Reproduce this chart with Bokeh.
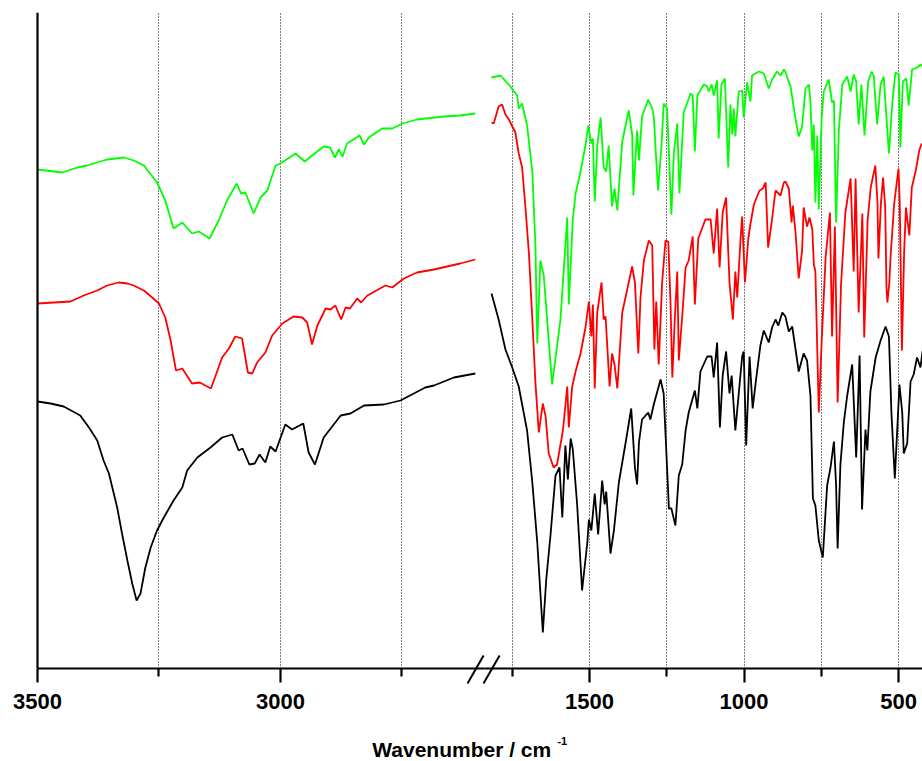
from bokeh.plotting import figure
from bokeh.models import Range1d, FixedTicker, Label, LinearAxis, Grid
from bokeh.embed import file_html
from bokeh.resources import INLINE

# ---------------- data (wavenumber / cm-1, transmittance a.u.) ----------------
# high-wavenumber panel
green_hi_wn = [3500, 3449, 3418, 3398, 3357, 3322, 3302, 3281, 3254, 3237, 3220, 3202, 3182, 3168, 3146,
               3127, 3110, 3090, 3081, 3072, 3055, 3041, 3027, 3010, 3000, 2969, 2950, 2935, 2911, 2898,
               2888, 2880, 2872, 2863, 2837, 2828, 2818, 2791, 2770, 2749, 2719, 2664, 2630, 2599]
green_hi_t = [499, 496, 501, 503, 509, 511, 508, 503, 486, 468, 440, 446, 435, 437, 430,
              448, 468, 485, 475, 476, 455, 471, 478, 503, 505, 515, 507, 513, 522, 521,
              511, 519, 512, 525, 533, 524, 531, 540, 540, 545, 549, 552, 553, 555]

red_hi_wn = [3500, 3466, 3432, 3405, 3377, 3357, 3333, 3315, 3302, 3281, 3264, 3250, 3237, 3226, 3215,
             3202, 3182, 3166, 3143, 3120, 3106, 3093, 3079, 3067, 3058, 3048, 3031, 3017, 2996, 2973,
             2955, 2945, 2935, 2924, 2907, 2897, 2887, 2875, 2866, 2857, 2842, 2834, 2821, 2784, 2770,
             2746, 2719, 2684, 2630, 2599]
red_hi_t = [365, 366, 367, 373, 378, 383, 386, 385, 383, 378, 371, 365, 351, 328, 298,
            300, 285, 286, 280, 311, 320, 332, 330, 296, 295, 306, 316, 333, 345, 352,
            351, 346, 324, 343, 360, 359, 363, 349, 361, 360, 370, 366, 373, 383, 381,
            390, 396, 399, 405, 409]

black_hi_wn = [3500, 3473, 3446, 3412, 3394, 3377, 3364, 3353, 3343, 3336, 3326, 3315, 3305, 3296, 3288,
               3278, 3267, 3254, 3240, 3220, 3202, 3192, 3171, 3144, 3120, 3099, 3086, 3078, 3064, 3053,
               3043, 3031, 3021, 3010, 2990, 2976, 2953, 2942, 2929, 2911, 2876, 2856, 2828, 2787, 2753,
               2702, 2684, 2643, 2599]
black_hi_t = [267, 265, 262, 253, 241, 228, 208, 195, 175, 161, 135, 108, 85, 68, 75,
              101, 121, 138, 151, 168, 181, 198, 211, 221, 231, 234, 218, 220, 204, 205,
              214, 206, 222, 217, 244, 239, 245, 216, 204, 231, 253, 255, 263, 264, 268,
              281, 283, 291, 295]

# fingerprint panel
green_lo_wn = [1817, 1788, 1756, 1734, 1729, 1718, 1702, 1685, 1675, 1669, 1659, 1648, 1621, 1594, 1578,
               1572, 1567, 1554, 1545, 1529, 1513, 1504, 1494, 1489, 1483, 1475, 1464, 1454, 1446, 1438,
               1427, 1419, 1410, 1394, 1373, 1362, 1358, 1346, 1340, 1330, 1310, 1297, 1292, 1286, 1278,
               1267, 1260, 1249, 1243, 1235, 1227, 1216, 1209, 1195, 1173, 1166, 1159, 1151, 1130, 1119,
               1114, 1105, 1098, 1087, 1082, 1073, 1062, 1051, 1044, 1038, 1033, 1028, 1017, 1006, 1001,
               990, 979, 974, 952, 936, 920, 909, 893, 882, 871, 866, 855, 850, 833, 823,
               812, 801, 790, 785, 779, 774, 769, 763, 758, 749, 742, 726, 715, 709, 702,
               693, 682, 666, 655, 645, 637, 629, 620, 610, 598, 587, 580, 569, 558, 548,
               531, 520, 510, 499, 494, 486, 475, 467, 456, 440, 429, 422]
green_lo_t = [591, 593, 582, 573, 560, 565, 543, 497, 423, 325, 408, 393, 284, 349, 423,
              451, 364, 449, 475, 497, 523, 543, 525, 530, 467, 523, 551, 501, 497, 523,
              462, 480, 458, 527, 558, 534, 473, 538, 508, 552, 569, 560, 552, 519, 478,
              523, 565, 560, 515, 454, 515, 545, 475, 556, 575, 573, 517, 573, 584, 582,
              577, 584, 573, 588, 530, 584, 590, 501, 564, 534, 560, 532, 577, 578, 551,
              586, 567, 593, 597, 595, 580, 589, 597, 593, 599, 597, 586, 583, 549, 532,
              542, 580, 584, 566, 518, 544, 466, 533, 459, 549, 577, 589, 566, 568, 446,
              539, 584, 592, 577, 594, 587, 544, 584, 533, 587, 597, 592, 544, 584, 592,
              515, 566, 596, 594, 521, 587, 590, 563, 599, 601, 604, 602]

red_lo_wn = [1817, 1810, 1794, 1783, 1772, 1761, 1740, 1729, 1718, 1707, 1696, 1685, 1675, 1664, 1651,
             1642, 1632, 1616, 1605, 1586, 1572, 1567, 1556, 1545, 1529, 1513, 1502, 1494, 1489, 1483,
             1475, 1461, 1454, 1448, 1435, 1427, 1419, 1410, 1394, 1362, 1353, 1342, 1335, 1324, 1308,
             1297, 1290, 1284, 1276, 1265, 1254, 1245, 1238, 1232, 1224, 1216, 1211, 1200, 1189, 1179,
             1166, 1159, 1148, 1125, 1108, 1098, 1087, 1079, 1069, 1058, 1047, 1036, 1028, 1022, 1011,
             1006, 997, 986, 979, 968, 950, 939, 930, 922, 911, 898, 882, 871, 866, 855,
             846, 842, 833, 823, 812, 807, 796, 788, 779, 774, 769, 758, 749, 736, 722,
             715, 706, 697, 686, 672, 655, 645, 639, 629, 617, 611, 600, 590, 575, 568,
             565, 557, 550, 543, 539, 536, 530, 525, 514, 500, 496, 489, 482, 476, 471,
             465, 457, 444, 433, 425]
red_lo_t = [546, 545, 562, 564, 554, 549, 536, 515, 501, 460, 415, 349, 286, 236, 265,
            252, 215, 201, 204, 238, 282, 241, 282, 297, 315, 341, 367, 332, 364, 280,
            356, 386, 349, 352, 282, 315, 304, 280, 356, 402, 386, 315, 371, 408, 428,
            423, 319, 367, 304, 386, 428, 427, 367, 291, 349, 397, 308, 352, 401, 408,
            432, 364, 430, 449, 449, 415, 460, 401, 456, 471, 386, 349, 397, 371, 430,
            452, 386, 430, 445, 464, 478, 480, 486, 421, 445, 478, 473, 486, 487, 480,
            446, 463, 435, 390, 418, 461, 442, 451, 439, 404, 397, 256, 325, 411, 456,
            332, 442, 266, 384, 456, 490, 397, 490, 356, 455, 331, 448, 481, 503, 465,
            410, 465, 491, 461, 381, 366, 385, 415, 465, 500, 465, 318, 415, 461, 448,
            433, 481, 498, 518, 525]

black_lo_wn = [1817, 1794, 1772, 1750, 1729, 1718, 1702, 1685, 1669, 1651, 1640, 1626, 1610, 1597, 1588,
               1578, 1570, 1561, 1554, 1540, 1524, 1507, 1502, 1494, 1483, 1472, 1459, 1451, 1446, 1432,
               1421, 1405, 1383, 1365, 1353, 1346, 1340, 1330, 1310, 1303, 1292, 1270, 1260, 1249, 1243,
               1235, 1222, 1211, 1200, 1189, 1179, 1159, 1151, 1141, 1119, 1105, 1098, 1087, 1078, 1069,
               1058, 1047, 1040, 1028, 1017, 1006, 1001, 993, 982, 972, 961, 947, 936, 920, 909,
               898, 889, 876, 866, 855, 844, 828, 823, 807, 796, 785, 777, 769, 758, 745,
               731, 720, 709, 702, 697, 688, 677, 666, 650, 637, 626, 618, 607, 601, 591,
               574, 558, 542, 531, 523, 512, 497, 488, 483, 472, 461, 451, 440, 429, 422]
black_lo_t = [375, 349, 319, 301, 282, 264, 238, 186, 126, 36, 89, 134, 193, 201, 151,
              223, 189, 230, 219, 164, 78, 126, 149, 138, 175, 134, 188, 164, 177, 115,
              138, 186, 226, 260, 201, 184, 226, 249, 256, 249, 264, 289, 275, 201, 160,
              160, 143, 193, 204, 238, 256, 278, 260, 297, 312, 312, 291, 326, 241, 293,
              317, 275, 293, 238, 275, 312, 317, 223, 312, 260, 289, 323, 338, 326, 341,
              349, 343, 356, 352, 337, 342, 308, 297, 315, 308, 273, 170, 163, 128, 111,
              183, 201, 227, 183, 120, 204, 246, 273, 304, 211, 313, 159, 239, 218, 277,
              311, 328, 342, 332, 256, 190, 284, 256, 215, 225, 287, 294, 311, 301, 318]

hi_major_ticks = [3500, 3000]
hi_minor_ticks = [3250, 2750]
hi_grid = [3250, 3000, 2750]
hi_bounds = (2580, 3500)
lo_major_ticks = [1500, 1000, 500]
lo_minor_ticks = [1750, 1250, 750]
lo_grid = [1750, 1500, 1250, 1000, 750, 500]
lo_bounds = (423, 1840)

GREEN = "#00ff00"
RED = "#ff0000"
BLACK = "#000000"
FONT = "Liberation Sans"
LW = 1.8

p = figure(width=922, height=761,
           x_range=Range1d(3576.1, 1678.7), y_range=Range1d(-93, 656),
           output_backend="svg", toolbar_location=None,
           x_axis_location=None, y_axis_location=None,
           min_border_left=0, min_border_right=0, min_border_top=12, min_border_bottom=0)
p.extra_x_ranges = {"lo": Range1d(3406, 422.4)}
p.outline_line_color = None
p.background_fill_color = "white"
p.border_fill_color = "white"
for g in list(p.grid):
    g.visible = False

# y axis (line only) at 3500 cm-1
ya = LinearAxis(fixed_location=3500, bounds=(0, 656), ticker=FixedTicker(ticks=[]))
ya.major_label_text_font_size = "0px"
ya.major_tick_line_color = None
ya.minor_tick_line_color = None
ya.axis_line_width = 2.2
ya.axis_line_color = "black"
p.add_layout(ya, "left")


def make_axis(range_name, major, minor, bounds):
    ax = LinearAxis(x_range_name=range_name, fixed_location=0, bounds=bounds,
                    ticker=FixedTicker(ticks=major, minor_ticks=minor))
    ax.axis_line_width = 2.2
    ax.axis_line_color = "black"
    ax.major_tick_in = 0
    ax.major_tick_out = 14
    ax.minor_tick_in = 0
    ax.minor_tick_out = 8
    ax.major_tick_line_width = 2.2
    ax.minor_tick_line_width = 2.2
    ax.major_label_text_font = FONT
    ax.major_label_text_font_style = "bold"
    ax.major_label_text_font_size = "22px"
    ax.major_label_text_color = "black"
    ax.major_label_standoff = 11
    return ax


def make_grid(range_name, ticks):
    g = Grid(dimension=0, x_range_name=range_name, ticker=FixedTicker(ticks=ticks))
    g.grid_line_color = "black"
    g.grid_line_dash = "1 2"
    g.grid_line_width = 1
    if "cross_bounds" in Grid.properties():
        g.cross_bounds = (0, 656)
    return g


p.add_layout(make_grid("default", hi_grid))
p.add_layout(make_grid("lo", lo_grid))
p.add_layout(make_axis("default", hi_major_ticks, hi_minor_ticks, hi_bounds), "below")
p.add_layout(make_axis("lo", lo_major_ticks, lo_minor_ticks, lo_bounds), "below")

p.line(green_hi_wn, green_hi_t, line_color=GREEN, line_width=LW)
p.line(red_hi_wn, red_hi_t, line_color=RED, line_width=LW)
p.line(black_hi_wn, black_hi_t, line_color=BLACK, line_width=LW)
p.line(green_lo_wn, green_lo_t, line_color=GREEN, line_width=LW, x_range_name="lo")
p.line(red_lo_wn, red_lo_t, line_color=RED, line_width=LW, x_range_name="lo")
p.line(black_lo_wn, black_lo_t, line_color=BLACK, line_width=LW, x_range_name="lo")

# axis-break marks "//"
p.segment(x0=[2615], y0=[-15], x1=[2582], y1=[13], line_color="black", line_width=2)
p.segment(x0=[1843], y0=[-15], x1=[1791], y1=[13], line_color="black", line_width=2,
          x_range_name="lo")

# axis title
p.add_layout(Label(x=2811, y=-81, text="Wavenumber / cm", text_font=FONT,
                   text_font_style="bold", text_font_size="21px",
                   text_baseline="alphabetic", text_align="left", text_color="black"))
p.add_layout(Label(x=2430, y=-72, text="-1", text_font=FONT,
                   text_font_style="bold", text_font_size="11px",
                   text_baseline="alphabetic", text_align="left", text_color="black"))

with open("out.html", "w") as f:
    f.write(file_html(p, INLINE))
